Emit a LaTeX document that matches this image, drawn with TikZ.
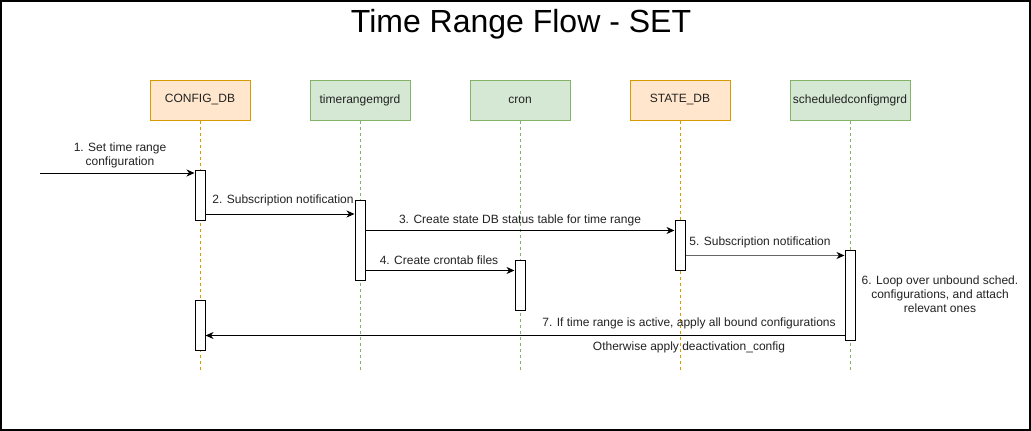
\documentclass[tikz,border=0pt]{standalone}
\usepackage{fontspec}
\setmainfont{Liberation Sans}
\usetikzlibrary{arrows.meta}
\definecolor{orfill}{HTML}{FFE6CC}
\definecolor{ordraw}{HTML}{D79B00}
\definecolor{grfill}{HTML}{D5E8D4}
\definecolor{grdraw}{HTML}{82B366}
\definecolor{txt}{HTML}{222222}
\definecolor{arrgray}{HTML}{666666}
\tikzset{
  every node/.style={font=\fontsize{12}{14}\selectfont, text=txt},
  orbox/.style={draw=ordraw, fill=orfill, line width=1pt, minimum width=100pt, minimum height=40pt, inner sep=0pt},
  grbox/.style={draw=grdraw, fill=grfill, line width=1pt, minimum width=100pt, minimum height=40pt, inner sep=0pt},
  orlife/.style={draw=ordraw, line width=1pt, dash pattern=on 3pt off 3pt},
  grlife/.style={draw=grdraw, line width=1pt, dash pattern=on 3pt off 3pt},
  actbox/.style={draw=black, fill=white, line width=1pt, minimum width=10pt, inner sep=0pt},
  msg/.style={draw=black, line width=1pt, -{Stealth[length=8pt,width=7pt,inset=2.5pt]}},
  graymsg/.style={msg, draw=arrgray, -{Stealth[length=8pt,width=7pt,inset=2.5pt,color=black]}},
  lbl/.style={inner sep=0pt, align=center},
}
\begin{document}
\begin{tikzpicture}[x=1pt,y=-1pt]
\useasboundingbox (0,0) rectangle (1031,431);
\node[draw=black, line width=1.5pt, minimum width=1029pt, minimum height=429pt, inner sep=0pt] (frame) at (515.5,215.5) {};
\node[lbl, font=\fontsize{32}{38}\selectfont, text=black] (title) at (521,24) {Time Range Flow - SET};

% headers
\node[orbox] (cfg) at (200,100) {CONFIG\_DB};
\node[grbox] (trm) at (360,100) {timerangemgrd};
\node[grbox] (cron) at (520,100) {cron};
\node[orbox] (state) at (680,100) {STATE\_DB};
\node[grbox, minimum width=120pt] (sched) at (850,100) {scheduledconfigmgrd};

% lifeline ends
\coordinate (cfgEnd) at (200,370);
\coordinate (trmEnd) at (360,370);
\coordinate (cronEnd) at (520,370);
\coordinate (stateEnd) at (680,370);
\coordinate (schedEnd) at (850,370);
\draw[orlife] (cfg.south) -- (cfgEnd);
\draw[grlife] (trm.south) -- (trmEnd);
\draw[grlife] (cron.south) -- (cronEnd);
\draw[orlife] (state.south) -- (stateEnd);
\draw[grlife] (sched.south) -- (schedEnd);

% activations
\node[actbox, minimum height=50pt] (a1) at (200,195) {};
\node[actbox, minimum height=80pt] (a2) at (360,240) {};
\node[actbox, minimum height=50pt] (a3) at (520,285) {};
\node[actbox, minimum height=50pt] (a4) at (200,325) {};
\node[actbox, minimum height=50pt] (a5) at (680,245) {};
\node[actbox, minimum height=90pt] (a6) at (850,295) {};

% messages
\coordinate (s1) at (40,173);
\draw[msg] (s1) -- (a1.west |- s1);
\node[lbl] (l1) at (120,155) {1. Set time range\\configuration};

\draw[msg] (a1.east |- 0,214) -- (a2.west |- 0,214);
\node[lbl] (l2) at (283,200) {2. Subscription notification};

\draw[msg] (a2.east |- 0,230.5) -- (a5.west |- 0,230.5);
\node[lbl] (l3) at (520,220) {3. Create state DB status table for time range};

\draw[msg] (a2.east |- 0,270.5) -- (a3.west |- 0,270.5);
\node[lbl] (l4) at (439,260) {4. Create crontab files};

\draw[graymsg] (a5.east |- 0,255.5) -- (a6.west |- 0,255.5);
\node[lbl] (l5) at (760,242) {5. Subscription notification};

\node[lbl] (l6) at (940,294) {6. Loop over unbound sched.\\configurations, and attach\\relevant ones};

\draw[msg] (a6.west |- 0,335.5) -- (a4.east |- 0,335.5);
\node[lbl] (l7) at (689,323) {7. If time range is active, apply all bound configurations};
\node[lbl] (l7b) at (689,347) {Otherwise apply deactivation\_config};
\end{tikzpicture}
\end{document}
